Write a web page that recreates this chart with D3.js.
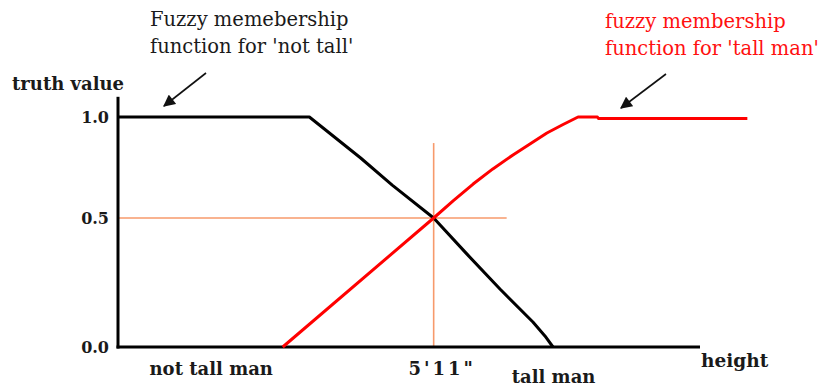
<!DOCTYPE html>
<html>
<head>
<meta charset="utf-8">
<script src="https://cdn.jsdelivr.net/npm/d3@7"></script>
<style>
  html, body { margin: 0; padding: 0; background: #fff; }
  svg { display: block; }
  .lbl { font-family: "DejaVu Serif", serif; font-weight: bold; fill: #1a1a1a; }
  .note { font-family: "DejaVu Serif", serif; }
</style>
</head>
<body>
<svg id="chart" width="822" height="388"></svg>
<script>
// Height in inches (x) against truth value (y) for two fuzzy sets
const notTallHeight = [55, 64.7, 67.3, 68.9, 71, 72.69, 74.36, 76.03, 76.64, 77.05];
const notTallTruth  = [1, 1, 0.797, 0.663, 0.5, 0.360, 0.225, 0.097, 0.043, 0];

const tallHeight = [63.35, 71, 72.0, 73.0, 74.0, 75.02, 75.88, 76.74, 77.56, 78.32, 79.3, 79.35, 86.9];
const tallTruth  = [0, 0.5, 0.586, 0.668, 0.743, 0.812, 0.866, 0.921, 0.963, 1, 1, 0.993, 0.993];

const yTickValues = [0, 0.5, 1];
const yTickLabels = ["0.0", "0.5", "1.0"];

const xTickValues = [59.7, 71, 77.05];
const xTickLabels = ["not tall man", "5'11\"", "tall man"];

// The crossover point of the two sets
const crossHeight = 71;
const crossTruth = 0.5;

const svg = d3.select("#chart");

const x = d3.scaleLinear().domain([55, 84.5]).range([118, 700]);
const y = d3.scaleLinear().domain([0, 0.5, 1]).range([347, 218, 117]);

const line = d3.line().x(d => x(d[0])).y(d => y(d[1]));

// Guide lines through the crossover point
const guide = "#f79a6b";
svg.append("line")
  .attr("x1", x(55)).attr("x2", x(74.7))
  .attr("y1", y(crossTruth)).attr("y2", y(crossTruth))
  .attr("stroke", guide).attr("stroke-width", 1.6);
svg.append("line")
  .attr("x1", x(crossHeight)).attr("x2", x(crossHeight))
  .attr("y1", y(0)).attr("y2", y(0.871))
  .attr("stroke", guide).attr("stroke-width", 1.6);

// Axis lines
svg.append("line")
  .attr("x1", x(55)).attr("x2", x(55))
  .attr("y1", y(0) + 1.5).attr("y2", y(1.1))
  .attr("stroke", "#000").attr("stroke-width", 3);
svg.append("line")
  .attr("x1", x(55) - 1.5).attr("x2", x(84.5))
  .attr("y1", y(0)).attr("y2", y(0))
  .attr("stroke", "#000").attr("stroke-width", 3);

// Membership curves
svg.append("path")
  .datum(d3.zip(notTallHeight, notTallTruth))
  .attr("d", line)
  .attr("fill", "none").attr("stroke", "#000")
  .attr("stroke-width", 3).attr("stroke-linejoin", "round");

svg.append("path")
  .datum(d3.zip(tallHeight, tallTruth))
  .attr("d", line)
  .attr("fill", "none").attr("stroke", "#ff0000")
  .attr("stroke-width", 3).attr("stroke-linejoin", "round");

// Y axis ticks
const yAxis = d3.axisLeft(y)
  .tickValues(yTickValues)
  .tickFormat((d, i) => yTickLabels[i])
  .tickSize(0).tickPadding(9);
const gy = svg.append("g").attr("transform", `translate(${x(55)},0)`).call(yAxis);
gy.select(".domain").remove();
gy.selectAll("text").attr("class", "lbl")
  .style("font-size", "16px").attr("dy", "0.36em");

// X axis ticks
const xLabelDy = [28, 28, 36];
const xLabelDx = [0, 8, 0];
const xLabelSpacing = [0, 3, 0];
const xAxis = d3.axisBottom(x)
  .tickValues(xTickValues)
  .tickFormat((d, i) => xTickLabels[i])
  .tickSize(0).tickPadding(0);
const gx = svg.append("g").attr("transform", `translate(0,${y(0)})`).call(xAxis);
gx.select(".domain").remove();
gx.selectAll("text").attr("class", "lbl")
  .style("font-size", "18px")
  .style("letter-spacing", (d, i) => xLabelSpacing[i] + "px")
  .attr("y", 0).attr("dy", (d, i) => xLabelDy[i]).attr("dx", (d, i) => xLabelDx[i]);

// Axis titles
svg.append("text").attr("class", "lbl")
  .attr("x", 12).attr("y", 90).style("font-size", "18px")
  .text("truth value");
svg.append("text").attr("class", "lbl")
  .attr("x", 701).attr("y", 367).style("font-size", "18.5px")
  .text("height");

// Annotations
const notes = [
  { lines: ["Fuzzy memebership", "function for 'not tall'"], x: 150, y: 26, color: "#1a1a1a",
    from: [206, 73], to: [164, 106] },
  { lines: ["fuzzy membership", "function for 'tall man'"], x: 605, y: 28, color: "#ff1010",
    from: [666, 74], to: [621, 108] }
];

const defs = svg.append("defs");
defs.append("marker")
  .attr("id", "arrowhead")
  .attr("viewBox", "0 0 10 10").attr("refX", 9).attr("refY", 5)
  .attr("markerWidth", 13).attr("markerHeight", 12)
  .attr("markerUnits", "userSpaceOnUse")
  .attr("orient", "auto")
  .append("path").attr("d", "M0,0 L10,5 L0,10 Z").attr("fill", "#111");

notes.forEach(n => {
  const t = svg.append("text").attr("class", "note")
    .attr("x", n.x).attr("y", n.y)
    .style("font-size", "19.5px").attr("fill", n.color);
  n.lines.forEach((s, i) => {
    t.append("tspan").attr("x", n.x).attr("dy", i === 0 ? 0 : 27).text(s);
  });
  svg.append("line")
    .attr("x1", n.from[0]).attr("y1", n.from[1])
    .attr("x2", n.to[0]).attr("y2", n.to[1])
    .attr("stroke", "#111").attr("stroke-width", 1.6)
    .attr("marker-end", "url(#arrowhead)");
});
</script>
</body>
</html>
